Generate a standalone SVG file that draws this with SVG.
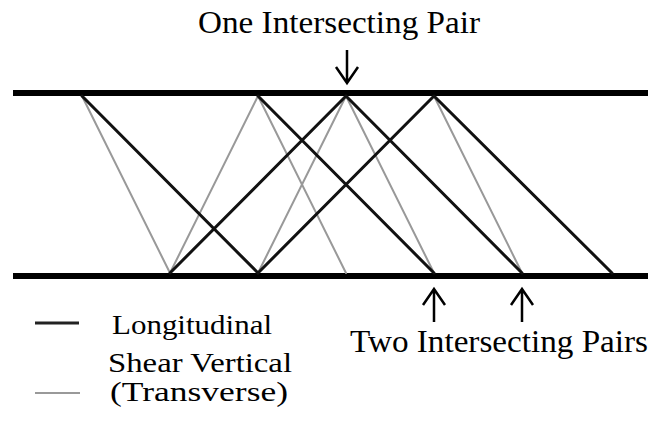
<svg xmlns="http://www.w3.org/2000/svg" width="652" height="425" viewBox="0 0 652 425">
<style>
.wall{stroke:#000;stroke-width:6;fill:none}
.L{stroke:#111;stroke-width:3;fill:none;stroke-linecap:round}
.S{stroke:#999;stroke-width:2;fill:none;stroke-linecap:round}
.arr{stroke:#000;stroke-width:2.5;fill:none}
text{font-family:"Liberation Serif","Times New Roman",serif;font-size:31px;fill:#000}
.leg{font-size:28px}
</style>
<rect width="652" height="425" fill="#fff"/>
<g id="plate">
<line class="wall" x1="13" y1="93" x2="648" y2="93"/>
<line class="wall" x1="13" y1="276" x2="648" y2="276"/>
</g>
<g id="rays">
<g id="shear">
<line class="S" x1="82" y1="96" x2="170" y2="273"/>
<line class="S" x1="170" y1="273" x2="258" y2="96"/>
<line class="S" x1="258" y1="96" x2="346" y2="273"/>
<line class="S" x1="258" y1="273" x2="346" y2="96"/>
<line class="S" x1="346" y1="96" x2="434" y2="273"/>
<line class="S" x1="434" y1="96" x2="522" y2="273"/>
</g>
<g id="longitudinal">
<line class="L" x1="82" y1="96" x2="258" y2="273"/>
<line class="L" x1="170" y1="273" x2="346" y2="96"/>
<line class="L" x1="258" y1="96" x2="434" y2="273"/>
<line class="L" x1="258" y1="273" x2="434" y2="96"/>
<line class="L" x1="346" y1="96" x2="522" y2="273"/>
<line class="L" x1="434" y1="96" x2="612" y2="273"/>
</g>
</g>
<g id="label-one">
<text x="198" y="33" textLength="282" lengthAdjust="spacingAndGlyphs">One Intersecting Pair</text>
<path class="arr" d="M347 50V82M336 67L347 83L358 67"/>
</g>
<g id="label-two">
<path class="arr" d="M434 322V290M423 305L434 289L445 305"/>
<path class="arr" d="M522 322V290M511 305L522 289L533 305"/>
<text x="350" y="352" style="font-size:32px" textLength="298" lengthAdjust="spacingAndGlyphs">Two Intersecting Pairs</text>
</g>
<g id="legend">
<line x1="35" y1="323" x2="79" y2="323" stroke="#222" stroke-width="3"/>
<text class="leg" x="112" y="334" textLength="160" lengthAdjust="spacingAndGlyphs">Longitudinal</text>
<line x1="35" y1="393" x2="80" y2="393" stroke="#999" stroke-width="2"/>
<text class="leg" x="108" y="372" textLength="184" lengthAdjust="spacingAndGlyphs">Shear Vertical</text>
<text class="leg" x="110" y="401" textLength="178" lengthAdjust="spacingAndGlyphs">(Transverse)</text>
</g>
</svg>
